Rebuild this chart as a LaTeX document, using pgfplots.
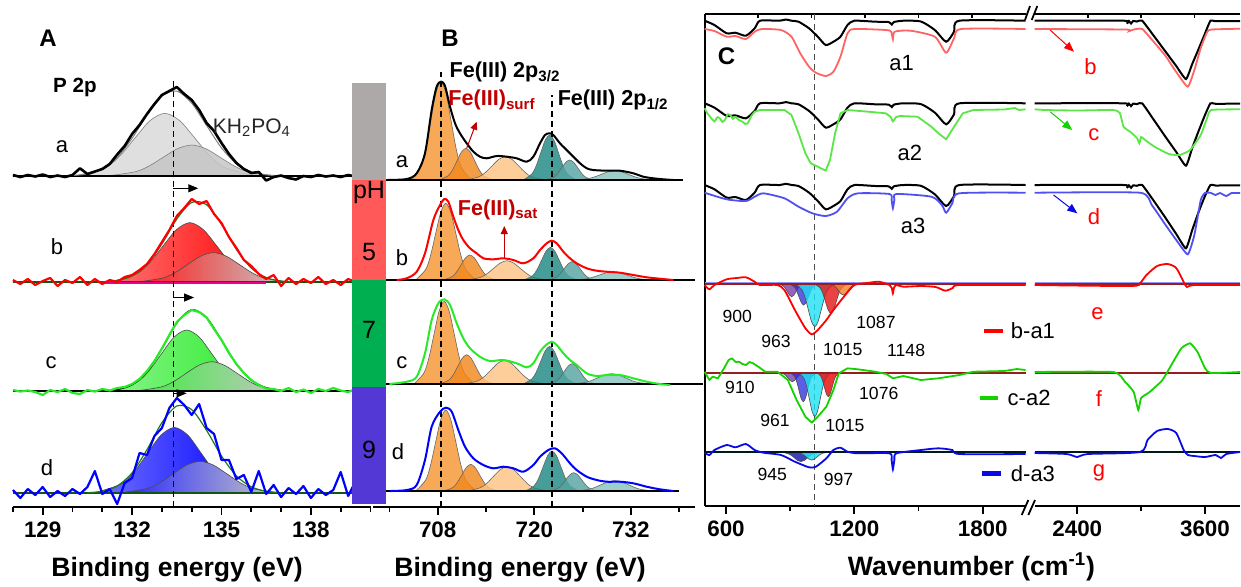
\documentclass[border=0pt]{standalone}
\usepackage{fontspec}
\setmainfont{Liberation Sans}
\usepackage{pgfplots}
\pgfplotsset{compat=1.18}
\usetikzlibrary{arrows.meta}

\definecolor{phgray}{RGB}{173,169,168}
\definecolor{phred}{RGB}{255,89,89}
\definecolor{phgreen}{RGB}{0,176,80}
\definecolor{phblue}{RGB}{84,56,214}
\definecolor{xred}{RGB}{255,0,0}
\definecolor{xgreen}{RGB}{40,235,40}
\definecolor{xblue}{RGB}{0,0,255}
\definecolor{fitgreen}{RGB}{30,120,30}
\definecolor{orA}{RGB}{247,150,50}
\definecolor{orB}{RGB}{242,135,30}
\definecolor{orS}{RGB}{252,195,130}
\definecolor{tlA}{RGB}{30,135,130}
\definecolor{tlB}{RGB}{85,165,162}
\definecolor{tlC}{RGB}{135,195,192}
\definecolor{dred}{RGB}{192,0,0}
\definecolor{cred}{RGB}{255,100,100}
\definecolor{cgreen}{RGB}{90,230,70}
\definecolor{cblue}{RGB}{80,80,240}
\definecolor{fgreen}{RGB}{20,210,0}
\definecolor{gblue}{RGB}{10,10,230}
\definecolor{cpur}{RGB}{112,48,160}
\definecolor{cblu}{RGB}{40,40,220}
\definecolor{ccya}{RGB}{30,225,245}
\definecolor{cred2}{RGB}{230,20,20}
\definecolor{corg}{RGB}{245,130,40}
\definecolor{bline}{RGB}{150,30,30}

\newcommand{\fTick}{\bfseries\fontsize{11.2}{13}\selectfont}
\newcommand{\fLab}{\bfseries\fontsize{13.3}{15}\selectfont}
\newcommand{\fPan}{\bfseries\fontsize{12}{14}\selectfont}
\newcommand{\fL}{\fontsize{11}{13}\selectfont}
\newcommand{\fFe}{\bfseries\fontsize{10.8}{13}\selectfont}
\newcommand{\fpH}{\fontsize{12.5}{14}\selectfont}
\newcommand{\fPk}{\fontsize{8.8}{10}\selectfont}

\pgfplotsset{
  base/.style={scale only axis, anchor=center, clip=false,
    axis line style={-, line width=1.2pt},
    tick align=outside, major tick length=4pt, minor tick length=2.3pt,
    tick style={black, line width=0.9pt},
    xticklabel style={font=\fTick},
    /pgf/number format/assume math mode=true,
    /pgf/number format/1000 sep={}, scaled x ticks=false},
  xps/.style={base, axis x line*=bottom, axis y line=none,
    ymin=79, ymax=556, height=238.5pt},
  comp/.style={smooth, draw=black!70, line width=0.3pt},
  bcomp/.style={smooth, draw=black!60, line width=0.3pt, fill opacity=0.82},
}

\begin{document}
\begin{tikzpicture}
\path[use as bounding box] (0pt,0pt) rectangle (620.5pt,-293pt);

% ---------------- A: P 2p ----------------
\begin{axis}[xps, at={(95.85pt,-134.25pt)}, width=178.8pt,
  xmin=128, xmax=140,
  xtick={129,132,135,138}, minor xtick={128,130,131,133,134,136,137,139,140}]
% a (gray)
\addplot[comp, draw=gray, fill=gray!25] coordinates {(130.1,410) (131.1,418.5) (131.6,430.4) (132.1,448.1) (132.6,465.3) (133.1,472.7) (133.6,465.3) (134.1,448.1) (134.6,430.4) (135.1,418.5) (136.1,410)} -- cycle;
\addplot[comp, draw=gray, fill=gray!45, fill opacity=0.85] coordinates {(131.15,410) (132.1,414.2) (132.575,420.1) (133.05,428.8) (133.525,437.3) (134,441) (134.475,437.3) (134.95,428.8) (135.425,420.1) (135.9,414.2) (136.85,410)} -- cycle;
% b (red)
\addplot[comp, left color=red!55, right color=red] coordinates {(131.24,304) (132.14,312) (132.59,323.3) (133.04,340.1) (133.49,356.4) (133.94,363.4) (134.39,356.4) (134.84,340.1) (135.29,323.3) (135.74,312) (136.64,304)} -- cycle;
\addplot[comp, left color=red!90, right color=gray!45] coordinates {(132.18,304) (133.03,308) (133.455,313.6) (133.88,321.9) (134.305,329.9) (134.73,333.4) (135.155,329.9) (135.58,321.9) (136.005,313.6) (136.43,308) (137.28,304)} -- cycle;
% c (green)
\addplot[comp, left color=xgreen!55, right color=xgreen] coordinates {(131.28,195) (132.13,203.2) (132.555,214.8) (132.98,232) (133.405,248.8) (133.83,256) (134.255,248.8) (134.68,232) (135.105,214.8) (135.53,203.2) (136.38,195)} -- cycle;
\addplot[comp, left color=xgreen!90, right color=gray!45] coordinates {(132.12,195) (132.97,199) (133.395,204.5) (133.82,212.8) (134.245,220.8) (134.67,224.3) (135.095,220.8) (135.52,212.8) (135.945,204.5) (136.37,199) (137.22,195)} -- cycle;
% d (blue)
\addplot[comp, left color=blue!55, right color=blue] coordinates {(130.72,93) (131.62,101.9) (132.07,114.3) (132.52,132.8) (132.97,150.9) (133.42,158.6) (133.87,150.9) (134.32,132.8) (134.77,114.3) (135.22,101.9) (136.12,93)} -- cycle;
\addplot[comp, left color=blue!85, right color=gray!45] coordinates {(131.58,93) (132.48,97.3) (132.93,103.3) (133.38,112.2) (133.83,120.9) (134.28,124.6) (134.73,120.9) (135.18,112.2) (135.63,103.3) (136.08,97.3) (136.98,93)} -- cycle;

% baselines
\addplot[black, line width=0.8pt] coordinates {(128,410) (140,410)};
\addplot[fitgreen!70!black, line width=0.8pt] coordinates {(128,304) (140,304)};
\addplot[magenta, line width=0.8pt] coordinates {(131,303.3) (136.5,303.3)};
\addplot[black, line width=0.8pt] coordinates {(128,195) (140,195)};
\addplot[fitgreen!70!black, line width=0.8pt] coordinates {(128,93) (140,93)};

\draw[dashed, line width=0.6pt, dash pattern=on 3pt off 2pt] (axis cs:133.38,79) -- (axis cs:133.38,508);

% fitted envelopes
\addplot[smooth, gray, line width=0.5pt] coordinates {(130,410.5) (130.5,412.1) (131,417.1) (131.5,428.4) (132,447.6) (132.5,471.3) (133,490.2) (133.5,494.9) (134,482.8) (134.5,460.5) (135,438.1) (135.5,422.4) (136,414.3) (136.5,411.2) (137,410.2)};
\addplot[smooth, fitgreen, line width=0.6pt] coordinates {(131,304.3) (131.5,305.5) (132,310) (132.5,321.4) (133,342.1) (133.5,367) (134,383.6) (134.5,381.2) (135,361.7) (135.5,336.7) (136,317.9) (136.5,308.4) (137,304.9) (137.5,304.1)};
\addplot[smooth, black, line width=0.6pt] coordinates {(131,195.2) (131.5,196.4) (132,201.2) (132.5,214) (133,237.2) (133.5,263) (134,276.3) (134.5,268.4) (135,245.9) (135.5,222) (136,205.9) (136.5,198.3) (137,195.7)};
\addplot[smooth, fitgreen, line width=0.6pt] coordinates {(130.5,93.3) (131,94.8) (131.5,100) (132,113.2) (132.5,136.4) (133,163.3) (133.5,180) (134,176.4) (134.5,155.6) (135,130) (135.5,110.1) (136,99.2) (136.5,94.7) (137,93.3)};

% measured spectra
\addplot[black, line width=1.3pt, line join=round] coordinates {(128,411) (128.25,409) (128.5,411) (128.75,409.5) (129,411.5) (129.25,409) (129.5,410.5) (129.75,409) (130,411) (130.25,417.7) (130.5,412) (130.75,414.5) (131,417) (131.25,422) (131.5,431.5) (131.75,440) (132,452) (132.25,461) (132.5,472) (132.75,482) (133,491) (133.25,495) (133.5,499) (133.75,492) (134,486) (134.25,476) (134.5,463) (134.75,455) (135,443) (135.25,432) (135.5,423) (135.75,417) (136,413) (136.25,414) (136.5,405.5) (136.75,409) (137,410.5) (137.25,408) (137.5,406.5) (137.75,410) (138,409) (138.25,411) (138.5,409.5) (138.75,410.5) (139,409) (139.25,411) (139.5,409.5) (139.75,411) (140,410)};
\addplot[xred, line width=1.1pt, line join=round] coordinates {(128,306) (128.25,302) (128.5,307) (128.75,301) (129,305) (129.25,308) (129.5,300) (129.75,306) (130,303) (130.25,309) (130.5,301) (130.75,307) (131,302) (131.25,306) (131.5,304) (131.75,309) (132,311) (132.25,316) (132.5,322) (132.75,332) (133,344) (133.25,356) (133.5,370) (133.75,378) (134,387) (134.25,382) (134.5,385) (134.75,372) (135,363) (135.25,349) (135.5,338) (135.75,326) (136,320) (136.25,312) (136.5,307) (136.75,311) (137,300) (137.25,308) (137.5,302) (137.75,307) (138,303) (138.25,309) (138.5,302) (138.75,306) (139,301) (139.25,307) (139.5,304) (139.75,311) (140,305)};
\addplot[xgreen, line width=1.1pt, line join=round] coordinates {(128,196) (128.25,194.5) (128.5,195.5) (128.75,194) (129,191) (129.25,196) (129.5,194) (129.75,197) (130,193) (130.25,192) (130.5,196) (130.75,194.5) (131,197) (131.25,195.5) (131.5,198) (131.75,199) (132,202) (132.25,207) (132.5,215) (132.75,225) (133,237.5) (133.25,251) (133.5,264) (133.75,271) (134,276) (134.25,274) (134.5,268.5) (134.75,257) (135,246) (135.25,233) (135.5,222) (135.75,213) (136,206) (136.25,201) (136.5,197.5) (136.75,197) (137,195) (137.25,198) (137.5,194) (137.75,196.5) (138,193) (138.25,197) (138.5,195) (138.75,198) (139,195.5) (139.25,194) (139.5,197) (139.75,192) (140,196)};
\addplot[xblue, line width=1.1pt, line join=round] coordinates {(128,96) (128.25,88) (128.5,97) (128.75,91) (129,99) (129.25,89) (129.5,95) (129.75,90) (130,97) (130.25,92) (130.5,99) (130.75,115) (131,92) (131.25,97) (131.5,82) (131.75,103) (132,108) (132.25,133) (132.5,131) (132.75,150) (133,158) (133.25,178) (133.5,188) (133.75,181) (134,171) (134.25,182) (134.5,158) (134.75,152) (135,126) (135.25,126) (135.5,107) (135.75,111) (136,94) (136.25,115) (136.5,92) (136.75,101) (137,89) (137.25,98) (137.5,92) (137.75,100) (138,88) (138.25,97) (138.5,91) (138.75,96) (139,114) (139.25,90) (139.5,105) (139.75,84) (140,95)};

\draw[-{Triangle[length=5pt,width=4pt]}, line width=0.6pt] (axis cs:133.38,397.7) -- (axis cs:134.22,397.7);
\draw[-{Triangle[length=5pt,width=4pt]}, line width=0.6pt] (axis cs:133.38,288.5) -- (axis cs:134.08,288.5);
\draw[-{Triangle[length=5pt,width=4pt]}, line width=0.6pt] (axis cs:133.38,192.7) -- (axis cs:133.83,192.7);

\node[font=\bfseries\fontsize{10.3}{12}\selectfont] at (axis cs:130.08,499) {P 2p};
\node[font=\fontsize{10.5}{12}\selectfont, black!85] at (axis cs:136.02,458) {KH\textsubscript{2}PO\textsubscript{4}};
\node[font=\fL] at (axis cs:129.65,439) {a};
\node[font=\fL] at (axis cs:129.48,339) {b};
\node[font=\fL] at (axis cs:129.28,223) {c};
\node[font=\fL] at (axis cs:129.14,118) {d};
\end{axis}

% ---------------- B: Fe 2p ----------------
\begin{axis}[xps, at={(267.15pt,-134.25pt)}, width=161pt,
  xmin=700, xmax=740,
  xtick={708,720,732}, minor xtick={702,714,726,738}]
% a
\addplot[bcomp, fill=orA] coordinates {(704.65,406) (705.9,419.3) (706.525,437.9) (707.15,465.7) (707.775,492.7) (708.4,504.3) (709.025,492.7) (709.65,465.7) (710.275,437.9) (710.9,419.3) (712.15,406)} -- cycle;
\addplot[bcomp, fill=orB] coordinates {(708.2,406) (709.3,410.3) (709.85,416.3) (710.4,425.2) (710.95,434) (711.5,437.7) (712.05,434) (712.6,425.2) (713.15,416.3) (713.7,410.3) (714.8,406)} -- cycle;
\addplot[bcomp, fill=orS] coordinates {(711.45,406) (713.1,409.1) (713.925,413.6) (714.75,420.1) (715.575,426.6) (716.4,429.3) (717.225,426.6) (718.05,420.1) (718.875,413.6) (719.7,409.1) (721.35,406)} -- cycle;
\addplot[bcomp, fill=tlA] coordinates {(718.6,406) (719.7,412.1) (720.25,420.6) (720.8,433.3) (721.35,445.7) (721.9,451) (722.45,445.7) (723,433.3) (723.55,420.6) (724.1,412.1) (725.2,406)} -- cycle;
\addplot[bcomp, fill=tlB] coordinates {(721.4,406) (722.4,408.7) (722.9,412.5) (723.4,418.1) (723.9,423.6) (724.4,426) (724.9,423.6) (725.4,418.1) (725.9,412.5) (726.4,408.7) (727.4,406)} -- cycle;
\addplot[bcomp, fill=tlC] coordinates {(724.9,406) (726.6,407.3) (727.45,409) (728.3,411.6) (729.15,414.2) (730,415.3) (730.85,414.2) (731.7,411.6) (732.55,409) (733.4,407.3) (735.1,406)} -- cycle;
% b
\addplot[bcomp, fill=orA] coordinates {(705.25,306) (706.5,316.4) (707.125,330.9) (707.75,352.6) (708.375,373.6) (709,382.7) (709.625,373.6) (710.25,352.6) (710.875,330.9) (711.5,316.4) (712.75,306)} -- cycle;
\addplot[bcomp, fill=orB] coordinates {(708.7,306) (709.8,309.4) (710.35,314.1) (710.9,321.2) (711.45,328.1) (712,331) (712.55,328.1) (713.1,321.2) (713.65,314.1) (714.2,309.4) (715.3,306)} -- cycle;
\addplot[bcomp, fill=orS] coordinates {(711.65,306) (713.3,308.6) (714.125,312.3) (714.95,317.7) (715.775,323) (716.6,325.3) (717.425,323) (718.25,317.7) (719.075,312.3) (719.9,308.6) (721.55,306)} -- cycle;
\addplot[bcomp, fill=tlA] coordinates {(718.7,306) (719.8,310.4) (720.35,316.6) (720.9,325.8) (721.45,334.8) (722,338.7) (722.55,334.8) (723.1,325.8) (723.65,316.6) (724.2,310.4) (725.3,306)} -- cycle;
\addplot[bcomp, fill=tlB] coordinates {(721.7,306) (722.7,308.5) (723.2,311.9) (723.7,317.1) (724.2,322.1) (724.7,324.3) (725.2,322.1) (725.7,317.1) (726.2,311.9) (726.7,308.5) (727.7,306)} -- cycle;
\addplot[bcomp, fill=tlC] coordinates {(724.7,306) (726.4,307.1) (727.25,308.7) (728.1,311) (728.95,313.3) (729.8,314.3) (730.65,313.3) (731.5,311) (732.35,308.7) (733.2,307.1) (734.9,306)} -- cycle;
% c
\addplot[bcomp, fill=orA] coordinates {(705.05,202) (706.3,213.2) (706.925,228.8) (707.55,252.1) (708.175,274.9) (708.8,284.6) (709.425,274.9) (710.05,252.1) (710.675,228.8) (711.3,213.2) (712.55,202)} -- cycle;
\addplot[bcomp, fill=orB] coordinates {(708.3,202) (709.4,206) (709.95,211.5) (710.5,219.8) (711.05,227.8) (711.6,231.3) (712.15,227.8) (712.7,219.8) (713.25,211.5) (713.8,206) (714.9,202)} -- cycle;
\addplot[bcomp, fill=orS] coordinates {(711.35,202) (713,205.2) (713.825,209.7) (714.65,216.3) (715.475,222.8) (716.3,225.6) (717.125,222.8) (717.95,216.3) (718.775,209.7) (719.6,205.2) (721.25,202)} -- cycle;
\addplot[bcomp, fill=tlA] coordinates {(718.6,202) (719.7,207.1) (720.25,214.2) (720.8,224.8) (721.35,235.2) (721.9,239.6) (722.45,235.2) (723,224.8) (723.55,214.2) (724.1,207.1) (725.2,202)} -- cycle;
\addplot[bcomp, fill=tlB] coordinates {(721.7,202) (722.7,204.7) (723.2,208.6) (723.7,214.3) (724.2,219.9) (724.7,222.3) (725.2,219.9) (725.7,214.3) (726.2,208.6) (726.7,204.7) (727.7,202)} -- cycle;
\addplot[bcomp, fill=tlC] coordinates {(724.5,202) (726.2,203.4) (727.05,205.3) (727.9,208.3) (728.75,211.1) (729.6,212.3) (730.45,211.1) (731.3,208.3) (732.15,205.3) (733,203.4) (734.7,202)} -- cycle;
% d
\addplot[bcomp, fill=orA] coordinates {(705.25,95) (706.5,105.9) (707.125,121.3) (707.75,144.2) (708.375,166.4) (709,176) (709.625,166.4) (710.25,144.2) (710.875,121.3) (711.5,105.9) (712.75,95)} -- cycle;
\addplot[bcomp, fill=orB] coordinates {(708.8,95) (709.9,98.6) (710.45,103.7) (711,111.2) (711.55,118.5) (712.1,121.7) (712.65,118.5) (713.2,111.2) (713.75,103.7) (714.3,98.6) (715.4,95)} -- cycle;
\addplot[bcomp, fill=orS] coordinates {(711.65,95) (713.3,98.3) (714.125,102.9) (714.95,109.8) (715.775,116.4) (716.6,119.3) (717.425,116.4) (718.25,109.8) (719.075,102.9) (719.9,98.3) (721.55,95)} -- cycle;
\addplot[bcomp, fill=tlA] coordinates {(718.9,95) (720,100.4) (720.55,108) (721.1,119.3) (721.65,130.3) (722.2,135) (722.75,130.3) (723.3,119.3) (723.85,108) (724.4,100.4) (725.5,95)} -- cycle;
\addplot[bcomp, fill=tlB] coordinates {(721.9,95) (722.9,97.5) (723.4,100.9) (723.9,106.1) (724.4,111.1) (724.9,113.3) (725.4,111.1) (725.9,106.1) (726.4,100.9) (726.9,97.5) (727.9,95)} -- cycle;
\addplot[bcomp, fill=tlC] coordinates {(724.9,95) (726.6,96.4) (727.45,98.3) (728.3,101.3) (729.15,104.1) (730,105.3) (730.85,104.1) (731.7,101.3) (732.55,98.3) (733.4,96.4) (735.1,95)} -- cycle;

% baselines
\addplot[black, line width=0.7pt] coordinates {(701.5,406) (738.5,406)};
\addplot[black, line width=0.7pt] coordinates {(701.5,306) (740,306)};
\addplot[black, line width=0.7pt] coordinates {(701.5,202) (741,202)};
\addplot[black, line width=0.7pt] coordinates {(701.5,95) (738,95)};

\draw[dashed, line width=0.6pt, dash pattern=on 3pt off 2pt] (axis cs:708.4,79) -- (axis cs:708.4,514);
\draw[dashed, line width=0.6pt, dash pattern=on 3pt off 2pt] (axis cs:722.2,79) -- (axis cs:722.2,491);

% measured spectra
\addplot[smooth, black, line width=1pt] coordinates {(701.66,406) (704.15,407) (705.39,412.7) (706.42,432.7) (707.25,476) (707.87,499.3) (708.41,504.3) (708.91,500) (709.53,479.3) (710.15,462.7) (710.77,452.7) (711.6,442.7) (712.43,434.3) (713.25,429.3) (714.08,427.7) (715.33,430) (716.57,429.3) (717.81,427.7) (719.05,424.3) (719.88,429.3) (720.71,442.7) (721.33,451) (721.87,452.7) (722.36,451) (723.19,442.7) (724.02,436) (724.85,429.3) (725.68,422.7) (726.51,417.7) (727.33,416) (728.99,415.3) (730.65,415.3) (732.3,412.7) (733.54,409.3) (734.79,407.7) (736.03,406.7) (737.27,406)};
\addplot[smooth, xred, line width=1pt] coordinates {(702.9,306) (704.15,307.7) (705.39,314.3) (706.42,332.7) (707.46,366) (708.29,381) (708.82,387) (709.32,384.3) (709.94,369.3) (710.56,356) (711.18,346) (712.01,337.7) (712.84,332.7) (713.67,327.7) (714.91,326.7) (716.15,327.7) (717.4,326) (718.64,322.7) (719.88,327.7) (720.71,336) (721.54,342.7) (722.16,345.3) (722.78,342.7) (723.61,334.3) (724.43,327.7) (725.26,322.7) (726.51,317.7) (727.75,315.3) (728.99,314.3) (730.65,313.3) (732.3,311) (733.96,308.7) (735.61,307.3) (737.27,306)};
\addplot[smooth, xgreen, line width=1pt] coordinates {(702,202) (704.15,204.3) (705.39,209.3) (706.42,232.7) (707.25,266) (708.08,282.7) (708.82,286.7) (709.53,281) (710.36,262.7) (711.18,247.7) (712.01,237.7) (713.25,229.3) (714.5,225) (716.15,226) (717.81,222.7) (719.05,218.7) (719.88,222.7) (720.71,234.3) (721.45,241) (722.16,244.3) (722.78,241) (723.61,232.7) (724.43,226) (725.26,221) (726.51,212.7) (727.75,210) (728.99,211) (730.65,211) (732.3,207.7) (733.96,204.3) (735.61,202) (736.86,201)};
\addplot[smooth, xblue, line width=1pt] coordinates {(702.07,95) (704.15,96) (705.39,101) (706.42,126) (707.25,159.3) (708.29,174.3) (709.03,178.3) (709.74,174.3) (710.56,156) (711.39,139.3) (712.43,127.7) (713.67,121) (714.91,117.7) (716.15,119.3) (717.4,117.7) (718.64,114.3) (719.88,121) (720.71,129.3) (721.74,136) (722.57,137.7) (723.4,132.7) (724.43,122.7) (725.26,116) (726.51,109.3) (727.75,106) (728.99,104.3) (730.65,104.3) (732.3,102.7) (733.96,99.3) (735.61,96.7) (737.27,95)};

\draw[-{Triangle[length=4pt,width=3.5pt]}, dred, line width=0.5pt] (axis cs:711.6,437.7) -- (axis cs:712.84,464.3);
\draw[-{Triangle[length=4pt,width=3.5pt]}, dred, line width=0.5pt] (axis cs:716.27,328) -- (axis cs:716.27,360);

\node[font=\fFe] at (axis cs:716.36,514) {Fe(III) 2p\textsubscript{3/2}};
\node[font=\fFe, dred] at (axis cs:714.75,486) {Fe(III)\textsubscript{surf}};
\node[font=\fFe] at (axis cs:729.8,486) {Fe(III) 2p\textsubscript{1/2}};
\node[font=\fFe, dred] at (axis cs:715.5,376) {Fe(III)\textsubscript{sat}};
\node[font=\fL] at (axis cs:703.56,424) {a};
\node[font=\fL] at (axis cs:703.56,328) {b};
\node[font=\fL] at (axis cs:703.56,223) {c};
\node[font=\fL] at (axis cs:703.07,134) {d};
\end{axis}

% pH bar
\fill[phgray] (176pt,-41.5pt) rectangle (193pt,-90pt);
\fill[phred] (176pt,-90pt) rectangle (193pt,-140pt);
\fill[phgreen] (176pt,-140pt) rectangle (193pt,-193.5pt);
\fill[phblue] (176pt,-193.5pt) rectangle (193pt,-252pt);
\node[font=\fpH] at (184.5pt,-96pt) {pH};
\node[font=\fpH] at (184.5pt,-126pt) {5};
\node[font=\fpH] at (184.5pt,-165pt) {7};
\node[font=\fpH] at (184.5pt,-225pt) {9};

% ---------------- C: FTIR, left part ----------------
\begin{axis}[base, at={(432.53pt,-130pt)}, width=160.45pt, height=246pt,
  xmin=500, xmax=2000, ymin=-506, ymax=-14,
  axis x line*=bottom, axis y line*=left, axis line style={line width=1pt},
  xtick={600,1200,1800}, minor xtick={900,1500}, ytick=\empty]
\draw[line width=1pt] (axis cs:500,-14) -- (axis cs:2000,-14);
\draw[line width=0.8pt] (axis cs:750,-14) -- (axis cs:750,-17.5);
\draw[line width=0.8pt] (axis cs:1000,-14) -- (axis cs:1000,-17.5);
\draw[line width=0.8pt] (axis cs:1250,-14) -- (axis cs:1250,-17.5);
\draw[line width=0.8pt] (axis cs:1500,-14) -- (axis cs:1500,-17.5);
\draw[line width=0.8pt] (axis cs:1750,-14) -- (axis cs:1750,-17.5);
\draw[dashed, black!70, line width=0.6pt, dash pattern=on 3pt off 2pt] (axis cs:1015,-14) -- (axis cs:1015,-506);

% fitted bands of the difference spectra
\addplot[comp, fill=cpur, fill opacity=0.75] coordinates {(847,-284) (867,-285.7) (877,-288.1) (887,-291.7) (897,-295.2) (907,-296.7) (917,-295.2) (927,-291.7) (937,-288.1) (947,-285.7) (967,-284)} -- cycle;
\addplot[comp, fill=cblu, fill opacity=0.75] coordinates {(897,-284) (919,-286.8) (930,-290.8) (941,-296.7) (952,-302.5) (963,-305) (974,-302.5) (985,-296.7) (996,-290.8) (1007,-286.8) (1029,-284)} -- cycle;
\addplot[comp, fill=ccya, fill opacity=0.8] coordinates {(925,-284) (955,-289.8) (970,-297.9) (985,-309.9) (1000,-321.7) (1015,-326.7) (1030,-321.7) (1045,-309.9) (1060,-297.9) (1075,-289.8) (1105,-284)} -- cycle;
\addplot[comp, fill=cred2, fill opacity=0.8] coordinates {(1015,-284) (1040,-288) (1052.5,-293.5) (1065,-301.8) (1077.5,-309.8) (1090,-313.3) (1102.5,-309.8) (1115,-301.8) (1127.5,-293.5) (1140,-288) (1165,-284)} -- cycle;
\addplot[comp, fill=corg, fill opacity=0.8] coordinates {(1082,-284) (1104,-285.5) (1115,-287.6) (1126,-290.7) (1137,-293.7) (1148,-295) (1159,-293.7) (1170,-290.7) (1181,-287.6) (1192,-285.5) (1214,-284)} -- cycle;
\addplot[comp, fill=cpur, fill opacity=0.75] coordinates {(850,-372.7) (870,-373.9) (880,-375.6) (890,-378.2) (900,-380.6) (910,-381.7) (920,-380.6) (930,-378.2) (940,-375.6) (950,-373.9) (970,-372.7)} -- cycle;
\addplot[comp, fill=cblu, fill opacity=0.75] coordinates {(901,-372.7) (921,-376.6) (931,-382.1) (941,-390.3) (951,-398.3) (961,-401.7) (971,-398.3) (981,-390.3) (991,-382.1) (1001,-376.6) (1021,-372.7)} -- cycle;
\addplot[comp, fill=ccya, fill opacity=0.8] coordinates {(940,-372.7) (965,-378.6) (977.5,-387) (990,-399.4) (1002.5,-411.5) (1015,-416.7) (1027.5,-411.5) (1040,-399.4) (1052.5,-387) (1065,-378.6) (1090,-372.7)} -- cycle;
\addplot[comp, fill=cred2, fill opacity=0.85] coordinates {(1024,-372.7) (1042,-375.9) (1051,-380.5) (1060,-387.3) (1069,-393.9) (1078,-396.7) (1087,-393.9) (1096,-387.3) (1105,-380.5) (1114,-375.9) (1132,-372.7)} -- cycle;
\addplot[comp, fill=cblu!80!black, fill opacity=0.85] coordinates {(860,-452.3) (890,-453.6) (905,-455.3) (920,-457.9) (935,-460.5) (950,-461.6) (965,-460.5) (980,-457.9) (995,-455.3) (1010,-453.6) (1040,-452.3)} -- cycle;
\addplot[comp, fill=ccya, fill opacity=0.85] coordinates {(925,-452.3) (950,-453.3) (962.5,-454.8) (975,-457) (987.5,-459.1) (1000,-460) (1012.5,-459.1) (1025,-457) (1037.5,-454.8) (1050,-453.3) (1075,-452.3)} -- cycle;

% reference (black) and treated spectra
\addplot[smooth, tension=0.4, black, line width=1pt] coordinates {(500,-20.7) (546,-25) (603,-33.3) (644,-32.7) (693,-35.7) (734,-28.3) (759,-20.7) (850,-20.7) (880,-19.5) (906,-20.7) (939,-21.7) (988,-28.3) (1029,-36.7) (1066,-45) (1102,-41.7) (1135,-36.7) (1168,-25) (1200,-20.7) (1298,-21.7) (1360,-22) (1375,-24.5) (1385,-22) (1429,-20.7) (1511,-21.5) (1576,-30) (1629,-41.7) (1666,-31.7) (1691,-20.7) (2000,-20.7)};
\addplot[smooth, tension=0.4, black, line width=1pt] coordinates {(500,-103.3) (546,-107.6) (603,-115.9) (644,-115.3) (693,-118.3) (734,-110.9) (759,-103.3) (850,-103.3) (880,-102.1) (906,-103.3) (939,-104.3) (988,-110.9) (1029,-119.3) (1066,-127.6) (1102,-124.3) (1135,-119.3) (1168,-107.6) (1200,-103.3) (1298,-104.3) (1360,-104.6) (1375,-107.1) (1385,-104.6) (1429,-103.3) (1511,-104.1) (1576,-112.6) (1629,-124.3) (1666,-114.3) (1691,-103.3) (2000,-103.3)};
\addplot[smooth, tension=0.4, black, line width=1pt] coordinates {(500,-185) (546,-189.3) (603,-197.6) (644,-197) (693,-200) (734,-192.6) (759,-185) (850,-185) (880,-183.8) (906,-185) (939,-186) (988,-192.6) (1029,-201) (1066,-209.3) (1102,-206) (1135,-201) (1168,-189.3) (1200,-185) (1298,-186) (1360,-186.3) (1375,-188.8) (1385,-186.3) (1429,-185) (1511,-185.8) (1576,-194.3) (1629,-206) (1666,-196) (1691,-185) (2000,-185)};
\addplot[smooth, tension=0.4, cred, line width=0.9pt] coordinates {(500,-29) (546,-31) (603,-36.7) (644,-36) (693,-39) (734,-31.7) (767,-29) (857,-30) (906,-36.7) (947,-53.3) (988,-66.7) (1020,-72.7) (1066,-76) (1102,-71.7) (1135,-56.7) (1168,-33.3) (1200,-29) (1347,-30) (1372,-31.7) (1380,-39.3) (1388,-31.7) (1462,-30.7) (1576,-36.7) (1629,-52.7) (1666,-38.3) (1699,-29) (2000,-29)};
\addplot[cgreen, line width=0.9pt, line join=round] coordinates {(500,-108.3) (513,-113.3) (530,-118) (546,-121.7) (560,-117) (571,-118.3) (583,-122) (595,-120) (608,-114) (620,-115) (632,-119) (644,-116.7) (660,-120) (677,-121.7) (690,-124) (702,-123.3) (718,-116) (734,-111.7) (759,-110) (873,-110) (906,-115) (939,-133.3) (971,-153.3) (996,-163.3) (1029,-166.7) (1053,-169.3) (1066,-170.7) (1086,-160) (1110,-133.3) (1135,-113.3) (1168,-110) (1266,-111.7) (1347,-113.3) (1370,-117) (1380,-121.7) (1395,-117) (1413,-116) (1495,-116.7) (1560,-126.7) (1593,-133.3) (1629,-139.3) (1666,-126.7) (1707,-113.3) (1756,-110) (1900,-109.5) (1950,-108) (1970,-110) (2000,-109.3)};
\addplot[smooth, tension=0.4, cblue, line width=0.9pt] coordinates {(500,-192.7) (603,-199.3) (693,-201) (734,-196.7) (775,-193.3) (873,-198.3) (939,-206.7) (1004,-213.3) (1066,-216) (1119,-211.7) (1168,-198.3) (1217,-193.3) (1364,-194) (1374,-200) (1380,-208.3) (1387,-200) (1396,-194) (1560,-196.7) (1609,-205) (1629,-212.7) (1658,-203.3) (1691,-193.3) (2000,-192.7)};

% difference spectra
\addplot[cblue!60, line width=0.5pt] coordinates {(500,-282.5) (2000,-282.5)};
\addplot[bline, line width=0.9pt] coordinates {(500,-284) (2000,-284)};
\addplot[bline, line width=0.9pt] coordinates {(500,-372.7) (2000,-372.7)};
\addplot[black!80!teal, line width=0.9pt] coordinates {(500,-452.3) (2000,-452.3)};
\addplot[smooth, tension=0.4, xred, line width=0.9pt] coordinates {(500,-285) (522,-289.3) (546,-285) (603,-279.3) (650,-278) (693,-277.3) (734,-281.7) (759,-285) (840,-285) (873,-290) (922,-310) (971,-328.3) (1001,-334.3) (1029,-330) (1069,-320) (1102,-310) (1151,-296.7) (1200,-285) (1260,-283) (1315,-281.7) (1364,-285) (1375,-288) (1380,-293.3) (1385,-288) (1395,-285) (1429,-286.7) (1511,-286) (1580,-287) (1625,-290.7) (1660,-288) (1691,-285) (2000,-285)};
\addplot[fgreen, line width=0.9pt, line join=round] coordinates {(500,-371.7) (522,-380) (538,-376.7) (562,-378.3) (595,-366.7) (612,-360) (628,-358.3) (645,-362) (661,-361.7) (677,-364) (693,-365) (710,-362) (726,-363.3) (751,-366.7) (783,-371.7) (840,-371.7) (889,-380) (930,-400) (971,-416.7) (1001,-422.7) (1029,-416.7) (1069,-406.7) (1102,-390) (1127,-373.3) (1168,-368.3) (1217,-369.3) (1298,-371.7) (1350,-374) (1380,-378.3) (1429,-376) (1511,-380) (1593,-378.3) (1691,-375) (1756,-371.7) (1900,-371) (1960,-369) (2000,-370)};
\addplot[smooth, tension=0.4, gblue, line width=0.9pt] coordinates {(500,-452.7) (522,-455) (546,-450) (603,-445) (644,-447.3) (693,-444) (734,-450) (775,-452.7) (857,-455) (922,-461.7) (988,-467.3) (1020,-466.7) (1069,-458.3) (1102,-450) (1135,-447.7) (1168,-451.7) (1217,-453.3) (1364,-453.3) (1374,-460) (1380,-469.3) (1387,-460) (1396,-453.3) (1511,-450) (1593,-448.3) (1658,-450) (1691,-454) (2000,-454)};

% labels
\node[font=\fPan] at (axis cs:603,-56.7) {C};
\node[font=\fL] at (axis cs:1421,-63.3) {a1};
\node[font=\fL] at (axis cs:1459,-153.3) {a2};
\node[font=\fL] at (axis cs:1475,-226) {a3};
\node[font=\fPk] at (axis cs:653,-316.7) {900};
\node[font=\fPk] at (axis cs:834,-341.7) {963};
\node[font=\fPk] at (axis cs:1146,-349) {1015};
\node[font=\fPk] at (axis cs:1301,-322.3) {1087};
\node[font=\fPk] at (axis cs:1442,-350) {1148};
\node[font=\fPk] at (axis cs:665,-387.3) {910};
\node[font=\fPk] at (axis cs:829,-420) {961};
\node[font=\fPk] at (axis cs:1156,-425) {1015};
\node[font=\fPk] at (axis cs:1314,-393.3) {1076};
\node[font=\fPk] at (axis cs:816,-474) {945};
\node[font=\fPk] at (axis cs:1126,-479.3) {997};
\draw[xred, line width=2.2pt] (axis cs:1805,-331) -- (axis cs:1895,-331);
\draw[fgreen, line width=2.2pt] (axis cs:1788,-397.7) -- (axis cs:1872,-397.7);
\draw[gblue, line width=2.2pt] (axis cs:1797,-473.3) -- (axis cs:1886,-473.3);
\node[font=\fL, anchor=west, inner sep=0pt] at (axis cs:1930,-331) {b-a1};
\node[font=\fL, anchor=west, inner sep=0pt] at (axis cs:1915,-397.7) {c-a2};
\node[font=\fL, anchor=west, inner sep=0pt] at (axis cs:1930,-473.3) {d-a3};
\end{axis}

% ---------------- C: FTIR, right part ----------------
\begin{axis}[base, at={(568.7pt,-130pt)}, width=102.7pt, height=246pt,
  xmin=2000, xmax=3930, ymin=-506, ymax=-14,
  axis x line*=bottom, axis y line=none, axis line style={line width=1pt},
  xtick={2400,3600}, minor xtick={3000}]
\draw[line width=1pt] (axis cs:2000,-14) -- (axis cs:3930,-14);
\draw[line width=0.8pt] (axis cs:2500,-14) -- (axis cs:2500,-17.5);
\draw[line width=0.8pt] (axis cs:3000,-14) -- (axis cs:3000,-17.5);
\draw[line width=0.8pt] (axis cs:3500,-14) -- (axis cs:3500,-17.5);

\addplot[smooth, tension=0.3, black, line width=1pt] coordinates {(2000,-20.7) (2840,-20.7) (2865,-23.5) (2885,-21) (2905,-23.5) (2925,-21) (2960,-21.5) (3010,-20.7) (3120,-36) (3230,-51.7) (3330,-66) (3421,-79) (3480,-64) (3540,-49) (3600,-33.5) (3651,-20.7) (3700,-21.2) (3930,-21)};
\addplot[smooth, tension=0.3, black, line width=1pt] coordinates {(2000,-103.3) (2840,-103.3) (2865,-106.1) (2885,-103.6) (2905,-106.1) (2925,-103.6) (2960,-104.1) (3010,-103.3) (3120,-120) (3230,-137) (3330,-152) (3421,-165.7) (3480,-148) (3540,-131) (3600,-115) (3651,-103.3) (3700,-103.8) (3930,-103.6)};
\addplot[smooth, tension=0.3, black, line width=1pt] coordinates {(2000,-185) (2840,-185) (2865,-187.8) (2885,-185.3) (2905,-187.8) (2925,-185.3) (2960,-185.8) (3010,-185) (3120,-201) (3230,-218) (3330,-234) (3421,-248.3) (3480,-230) (3540,-212) (3600,-196) (3651,-185) (3700,-185.5) (3930,-185.3)};
\addplot[smooth, tension=0.3, cred, line width=0.9pt] coordinates {(2000,-29) (2850,-29.5) (2890,-31) (2930,-29.5) (3010,-29) (3120,-42) (3230,-56) (3330,-72) (3438,-86.7) (3500,-70) (3560,-48) (3620,-32) (3660,-29.5) (3930,-28.7)};
\addplot[smooth, tension=0.3, cgreen, line width=0.9pt] coordinates {(2000,-109.3) (2100,-110) (2400,-110.5) (2736,-110) (2800,-113) (2835,-126.7) (2900,-132) (2960,-138) (2984,-143.3) (3000,-137) (3050,-141) (3130,-147) (3260,-154) (3360,-155) (3460,-150) (3560,-135) (3620,-118) (3660,-110) (3930,-109.3)};
\addplot[smooth, tension=0.3, cblue, line width=0.9pt] coordinates {(2000,-192.7) (2990,-192.7) (3100,-205) (3230,-225) (3330,-240) (3438,-254.3) (3500,-235) (3560,-200) (3600,-193) (3650,-192.7) (3700,-195) (3740,-193) (3800,-196) (3850,-193) (3930,-193)};

\addplot[cblue!60, line width=0.5pt] coordinates {(2000,-282.5) (3930,-282.5)};
\addplot[bline, line width=0.9pt] coordinates {(2000,-284) (3930,-284)};
\addplot[bline, line width=0.9pt] coordinates {(2000,-372.7) (3930,-372.7)};
\addplot[black!80!teal, line width=0.9pt] coordinates {(2000,-452.3) (3930,-452.3)};
\addplot[smooth, tension=0.4, xred, line width=0.9pt] coordinates {(2000,-285) (2900,-286) (2990,-283) (3050,-275) (3150,-266) (3250,-264) (3330,-268) (3400,-282) (3430,-287) (3500,-285) (3930,-285)};
\addplot[smooth, tension=0.3, fgreen, line width=0.9pt] coordinates {(2000,-372) (2736,-372) (2850,-382) (2930,-392) (2973,-410) (3000,-398) (3080,-392) (3200,-380) (3300,-362) (3380,-348) (3460,-343.3) (3530,-352) (3600,-368) (3654,-373) (3930,-372)};
\addplot[smooth, tension=0.4, gblue, line width=0.9pt] coordinates {(2000,-453) (2300,-454) (2400,-457) (2500,-454) (2990,-452) (3060,-440) (3150,-431) (3250,-429) (3330,-433) (3400,-450) (3440,-455) (3500,-456) (3600,-457) (3700,-455) (3750,-458) (3800,-454) (3930,-452)};

\draw[-{Triangle[length=5pt,width=4pt]}, xred, line width=0.5pt] (axis cs:2145,-30) -- (axis cs:2369,-51.7);
\draw[-{Triangle[length=5pt,width=4pt]}, fgreen, line width=0.5pt] (axis cs:2145,-111.7) -- (axis cs:2353,-130);
\draw[-{Triangle[length=5pt,width=4pt]}, gblue, line width=0.5pt] (axis cs:2177,-195) -- (axis cs:2400,-213.3);
\node[font=\fL, xred] at (axis cs:2523,-66.7) {b};
\node[font=\fL, xred] at (axis cs:2557,-135) {c};
\node[font=\fL, xred] at (axis cs:2557,-216.7) {d};
\node[font=\fL, xred] at (axis cs:2589,-313.3) {e};
\node[font=\fL, xred] at (axis cs:2604,-398.3) {f};
\node[font=\fL, xred] at (axis cs:2604,-473.3) {g};
\end{axis}

% axis breaks
\draw[line width=0.9pt] (512.5pt,-10pt) -- (515pt,-3pt);
\draw[line width=0.9pt] (515.85pt,-10pt) -- (518.65pt,-3pt);
\draw[line width=0.9pt] (510.85pt,-257.5pt) -- (514.15pt,-250pt);
\draw[line width=0.9pt] (514.15pt,-257.5pt) -- (517.5pt,-250pt);

% panel letters and axis titles
\node[font=\fPan] at (24pt,-19pt) {A};
\node[font=\fPan] at (225pt,-19pt) {B};
\node[font=\fLab] at (88.5pt,-285pt) {Binding energy (eV)};
\node[font=\fLab] at (260pt,-285pt) {Binding energy (eV)};
\node[font=\fLab] at (485.75pt,-283.3pt) {Wavenumber (cm\textsuperscript{-1})};
\end{tikzpicture}
\end{document}
